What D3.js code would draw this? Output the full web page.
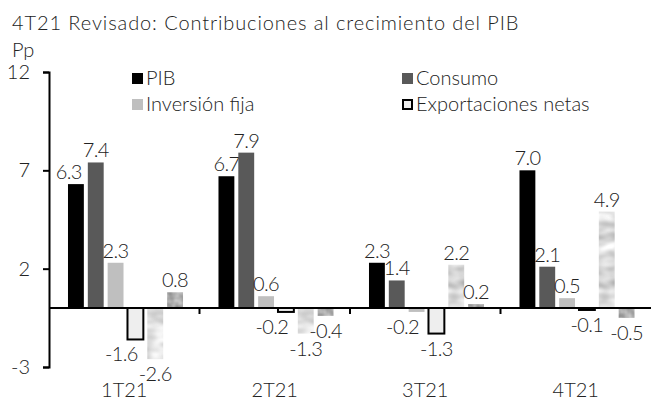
<!DOCTYPE html>
<html>
<head>
<meta charset="utf-8">
<script src="https://cdn.jsdelivr.net/npm/d3@7"></script>
<style>
  body { margin: 0; background: #fff; }
  svg text { font-family: Lato, "Liberation Sans", sans-serif; font-weight: 300; fill: #222; }
</style>
</head>
<body>
<svg id="chart" width="651" height="400"></svg>
<script>
const quarters = ['1T21', '2T21', '3T21', '4T21'];
const seriesNames = ['PIB', 'Consumo', 'Inversión fija', 'Exportaciones netas', 'Otros 1', 'Otros 2'];
const pib = [6.3, 6.7, 2.3, 7.0];
const consumo = [7.4, 7.9, 1.4, 2.1];
const inversion = [2.3, 0.6, -0.2, 0.5];
const exportaciones = [-1.6, -0.2, -1.3, -0.1];
const otros1 = [-2.6, -1.3, 2.2, 4.9];
const otros2 = [0.8, -0.4, 0.2, -0.5];
const yTicks = [12, 7, 2, -3];
const legendNames = ['PIB', 'Consumo', 'Inversión fija', 'Exportaciones netas'];

const values = [pib, consumo, inversion, exportaciones, otros1, otros2];
const fills = ['#000', '#595959', '#bfbfbf', '#eeeeee'];

const svg = d3.select('#chart');

// marble-like textures for the two unlabelled series
const defs = svg.append('defs');
function texture(id, offset, freq) {
  const f = defs.append('filter').attr('id', id)
    .attr('x', 0).attr('y', 0).attr('width', 1).attr('height', 1)
    .attr('color-interpolation-filters', 'sRGB');
  f.append('feTurbulence').attr('type', 'fractalNoise')
    .attr('baseFrequency', freq).attr('numOctaves', 2).attr('seed', 3).attr('result', 'n');
  f.append('feColorMatrix').attr('type', 'matrix')
    .attr('values', `0.5 0 0 0 ${offset}  0.5 0 0 0 ${offset}  0.5 0 0 0 ${offset}  0 0 0 0 1`)
    .attr('result', 'g');
  f.append('feComposite').attr('in', 'g').attr('in2', 'SourceGraphic').attr('operator', 'in');
}
texture('tex1', 0.6, '0.05 0.09');
texture('tex2', 0.42, 0.12);

const fmt = v => v.toFixed(1);   // hyphen minus like the original

const y = d3.scaleLinear().domain([-3, 12]).range([367, 72]);
const x0 = d3.scaleBand().domain(quarters).range([49, 651]).padding(0);
const x1 = d3.scaleBand().domain(d3.range(seriesNames.length))
  .range([17, 136]).paddingInner(0.2).paddingOuter(0.1);

// title
svg.append('text').attr('x', 12).attr('y', 30).style('font-size', '20px')
  .style('letter-spacing', '0.9px')
  .text('4T21 Revisado: Contribuciones al crecimiento del PIB');
svg.append('text').attr('x', 12).attr('y', 57).style('font-size', '20px').text('Pp');

// bars
quarters.forEach((q, qi) => {
  const g = svg.append('g').attr('transform', `translate(${x0(q)},0)`);
  const labels = [];
  values.forEach((vals, si) => {
    const v = vals[qi];
    const rect = g.append('rect')
      .attr('x', x1(si))
      .attr('y', y(Math.max(0, v)))
      .attr('width', x1.bandwidth())
      .attr('height', Math.abs(y(v) - y(0)));
    if (si === 3) {
      rect.attr('fill', fills[si]).attr('stroke', '#000').attr('stroke-width', 2);
    } else if (si >= 4) {
      rect.attr('fill', '#ccc').attr('filter', `url(#tex${si - 3})`);
    } else {
      rect.attr('fill', fills[si]);
    }
    const base = v >= 0 ? y(v) - 5 : y(v) + 22;
    const t = g.append('text')
      .attr('x', x1(si) + x1.bandwidth() / 2)
      .attr('y', base)
      .attr('text-anchor', 'middle')
      .style('font-size', '20px')
      .style('letter-spacing', '-0.6px')
      .text(fmt(v));
    labels.push({ t, base, v });
  });
  // a shorter bar's label moves left out of the way of its taller right neighbour
  for (let i = labels.length - 2; i >= 0; i--) {
    const a = labels[i], b = labels[i + 1];
    if (Math.sign(a.v) !== Math.sign(b.v) || Math.abs(a.v) >= Math.abs(b.v)) continue;
    if (Math.abs(a.base - b.base) >= 15 + 8) continue;
    const ba = a.t.node().getBBox();
    const bb = b.t.node().getBBox();
    if (ba.x + ba.width + 1 > bb.x && ba.x < bb.x + bb.width) {
      a.t.attr('x', +a.t.attr('x') - (ba.x + ba.width + 1 - bb.x));
    }
  }
});

// y axis
const yAxis = svg.append('g').attr('transform', 'translate(49,0)')
  .call(d3.axisLeft(y).tickValues(yTicks).tickSize(6).tickPadding(13).tickFormat(d => String(d)));
yAxis.selectAll('path, line').attr('stroke', '#000').attr('stroke-width', 2);
yAxis.selectAll('text').style('font-size', '20px').style('font-family', null);

// x axis at zero
svg.append('line').attr('x1', 49).attr('x2', 651).attr('y1', y(0)).attr('y2', y(0))
  .attr('stroke', '#000').attr('stroke-width', 2);
svg.selectAll('.xtick').data(quarters.slice(1)).enter().append('line')
  .attr('x1', d => x0(d)).attr('x2', d => x0(d))
  .attr('y1', y(0)).attr('y2', y(0) + 6)
  .attr('stroke', '#000').attr('stroke-width', 2);
svg.selectAll('.xlab').data(quarters).enter().append('text')
  .attr('x', d => x0(d) + x0.bandwidth() / 2)
  .attr('y', 397)
  .attr('text-anchor', 'middle')
  .style('font-size', '20px')
  .text(d => d);

// legend
const legendPos = [[132, 78], [402, 78], [132, 104], [402, 104]];
legendNames.forEach((name, i) => {
  const [lx, ly] = legendPos[i];
  const r = svg.append('rect').attr('x', lx).attr('y', ly - 5).attr('width', 11).attr('height', 11)
    .attr('fill', fills[i]);
  if (i === 3) r.attr('x', lx + 1).attr('y', ly - 4).attr('width', 9).attr('height', 9)
    .attr('stroke', '#000').attr('stroke-width', 2);
  svg.append('text').attr('x', lx + 14).attr('y', ly + 7).style('font-size', '20px').text(name);
});
</script>
</body>
</html>
